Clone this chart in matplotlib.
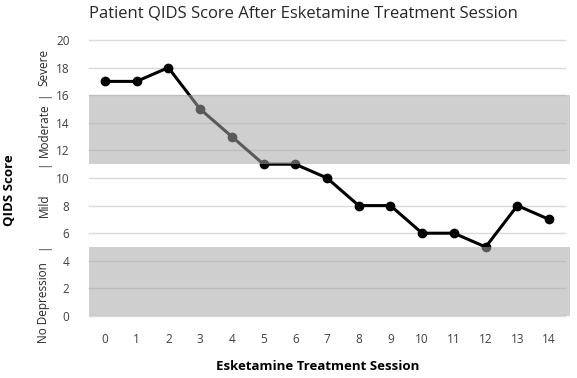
import matplotlib
matplotlib.use("Agg")
import matplotlib.pyplot as plt
from matplotlib.patches import Rectangle

sessions = list(range(15))
scores = [17, 17, 18, 15, 13, 11, 11, 10, 8, 8, 6, 6, 5, 8, 7]
yticks = [0, 2, 4, 6, 8, 10, 12, 14, 16, 18, 20]
bands = [(11, 16), (0, 5)]
severity_labels = [("Severe", 18.0), ("|", 16.0), ("Moderate", 13.5), ("|", 11.0),
                   ("Mild", 8.0), ("|", 5.0), ("No Depression", 1.0)]

plt.rcParams['font.family'] = ['Open Sans', 'DejaVu Sans']

fig = plt.figure(figsize=(5.77, 3.78), dpi=100)
ax = fig.add_axes([89/577, 1-316/378, (565-89)/577, (316-40)/378])

ax.plot(sessions, scores, color='black', lw=2.2, marker='o', ms=6, zorder=3)
for lo, hi in bands:
    r = Rectangle((-0.5, lo), 15.15, hi - lo, facecolor='#a7a7a7', alpha=0.54,
                  edgecolor='none', zorder=4, clip_on=False)
    ax.add_patch(r)

ax.set_xlim(-0.5, 14.5)
ax.set_ylim(0, 20)
ax.set_xticks(sessions)
ax.set_yticks(yticks)
for y in yticks:
    ax.axhline(y, color='#d9d9d9', lw=1, zorder=1, clip_on=False)
for s in ax.spines.values():
    s.set_visible(False)
ax.tick_params(length=0, labelsize=8.5, labelcolor='#404040', pad=12)
ax.tick_params(axis='y', pad=14)

fig.text(303/577, 1-13/378, "Patient QIDS Score After Esketamine Treatment Session",
         ha='center', va='center', fontsize=12, color='#262626')
fig.text(10/577, 1-190/378, "QIDS Score", rotation=90, ha='center', va='center',
         fontsize=9.5, fontweight='bold', color='black')
fig.text(318/577, 1-367/378, "Esketamine Treatment Session", ha='center', va='center',
         fontsize=9.5, fontweight='bold', color='black')
for txt, yv in severity_labels:
    ax.text(-0.5 - 45/31.7, yv, txt, rotation=90, ha='center', va='center',
            fontsize=8.5, color='#262626', transform=ax.transData, clip_on=False)

fig.savefig("out.png", dpi=100)
